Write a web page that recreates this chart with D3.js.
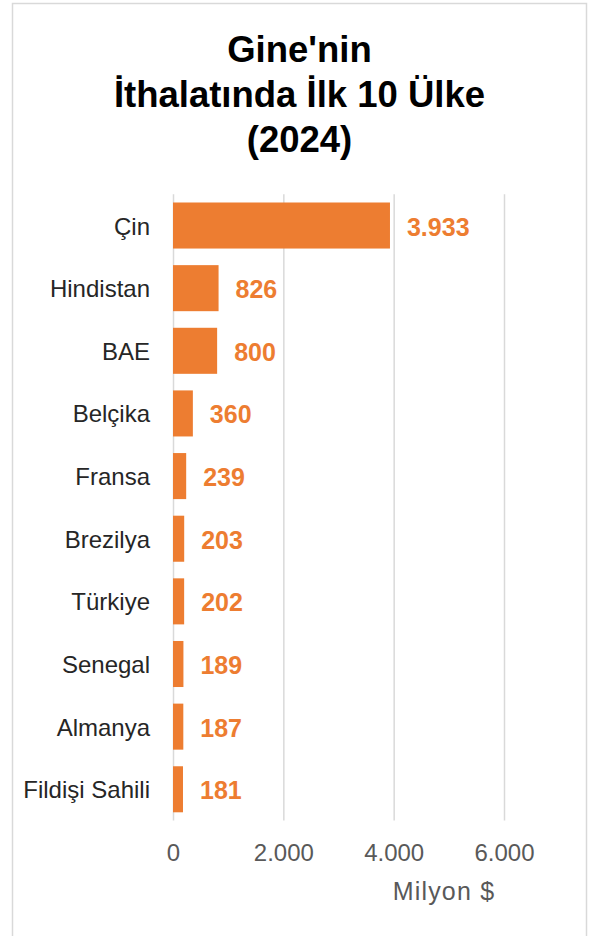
<!DOCTYPE html>
<html>
<head>
<meta charset="utf-8">
<script src="https://cdn.jsdelivr.net/npm/d3@7"></script>
<style>
  body { margin: 0; background: #fff; }
  svg { display: block; }
</style>
</head>
<body>
<svg id="chart" width="589" height="936"></svg>
<script>
// data
const titleLines = ["Gine'nin", "İthalatında İlk 10 Ülke", "(2024)"];
const categories = ["Çin", "Hindistan", "BAE", "Belçika", "Fransa", "Brezilya", "Türkiye", "Senegal", "Almanya", "Fildişi Sahili"];
const values = [3933, 826, 800, 360, 239, 203, 202, 189, 187, 181];
const xTicks = [0, 2000, 4000, 6000];
const axisTitle = "Milyon $";

const trLocale = d3.formatLocale({decimal: ",", thousands: ".", grouping: [3], currency: ["", "$"]});
const fmt = trLocale.format(",");

const svg = d3.select("#chart"),
    ORANGE = "#ED7D31",
    FONT = "Liberation Sans, Arial, sans-serif",
    plot = {left: 173, right: 504, top: 194.2, bottom: 820.6};

// chart frame
svg.append("rect")
    .attr("x", 12.5).attr("y", 3.5)
    .attr("width", 574).attr("height", 940)
    .attr("fill", "#fff")
    .attr("stroke", "#d9d9d9")
    .attr("stroke-width", 1.5);

// title
svg.append("g").selectAll("text")
    .data(titleLines)
    .enter().append("text")
    .attr("x", 299.5)
    .attr("y", (d, i) => 61.5 + i * 45)
    .attr("text-anchor", "middle")
    .attr("font-family", FONT)
    .attr("font-weight", "bold")
    .attr("font-size", 36.5)
    .attr("fill", "#000")
    .text(d => d);

let x = d3.scaleLinear()
    .domain([0, 6000])
    .range([plot.left, plot.right]);

let y = d3.scaleBand()
    .domain(categories)
    .range([plot.top, plot.bottom])
    .paddingInner(0.265)
    .paddingOuter(0.1325);

// gridlines + tick labels
let xAxis = svg.append("g")
    .attr("transform", "translate(0," + plot.bottom + ")")
    .call(d3.axisBottom(x)
        .tickValues(xTicks)
        .tickSize(-(plot.bottom - plot.top))
        .tickFormat(fmt));

xAxis.select(".domain").remove();
xAxis.selectAll(".tick line")
    .attr("stroke", "#d9d9d9")
    .attr("stroke-width", 1.5);
xAxis.selectAll(".tick text")
    .attr("y", 40)
    .attr("dy", null)
    .attr("font-family", FONT)
    .attr("font-size", 24)
    .attr("fill", "#595959");

svg.append("text")
    .attr("x", 444)
    .attr("y", 900)
    .attr("text-anchor", "middle")
    .attr("font-family", FONT)
    .attr("font-size", 25)
    .attr("letter-spacing", 1.2)
    .attr("fill", "#595959")
    .text(axisTitle);

// category labels
svg.append("g").selectAll("text")
    .data(categories)
    .enter().append("text")
    .attr("x", 150)
    .attr("y", d => y(d) + y.bandwidth() / 2 + 9)
    .attr("text-anchor", "end")
    .attr("font-family", FONT)
    .attr("font-size", 24)
    .attr("fill", "#262626")
    .text(d => d);

const rows = categories.map((c, i) => ({name: c, value: values[i]}));

// bars
svg.append("g").selectAll("rect")
    .data(rows)
    .enter().append("rect")
    .attr("x", x(0))
    .attr("y", d => y(d.name))
    .attr("width", d => x(d.value) - x(0))
    .attr("height", y.bandwidth())
    .attr("fill", ORANGE);

// value labels
svg.append("g").selectAll("text")
    .data(rows)
    .enter().append("text")
    .attr("x", d => x(d.value) + 17)
    .attr("y", d => y(d.name) + y.bandwidth() / 2 + 10)
    .attr("font-family", FONT)
    .attr("font-weight", "bold")
    .attr("font-size", 25)
    .attr("fill", ORANGE)
    .text(d => fmt(d.value));
</script>
</body>
</html>
